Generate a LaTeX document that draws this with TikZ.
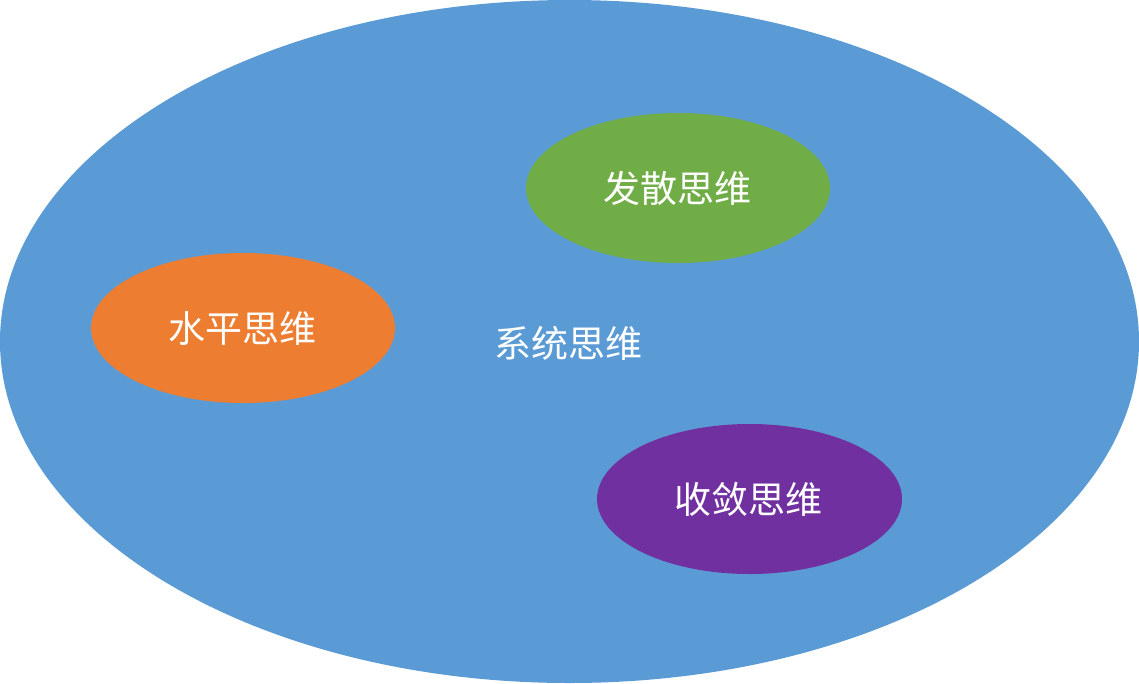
\documentclass[tikz,border=0pt]{standalone}
\usepackage{fontspec}
\newfontfamily\cjk{Noto Sans CJK SC}
\definecolor{bigblue}{HTML}{5B9BD5}
\definecolor{mygreen}{HTML}{70AD47}
\definecolor{myorange}{HTML}{ED7D31}
\definecolor{mypurple}{HTML}{7030A0}
\begin{document}
\begin{tikzpicture}[x=1pt,y=-1pt,
  lbl/.style={text=white,font=\cjk\fontsize{37}{42}\selectfont,inner sep=0pt}]
\useasboundingbox (0,0) rectangle (1139,683);
\fill[bigblue] (569.5,341.5) ellipse [x radius=569.5, y radius=341.5];
\node[lbl] (sys) at (568,343) {系统思维};
\fill[mygreen] (678,188) ellipse [x radius=152, y radius=75];
\node[lbl] (fs) at (677,188) {发散思维};
\fill[myorange] (243,328) ellipse [x radius=152, y radius=75];
\node[lbl] (sp) at (242,328) {水平思维};
\fill[mypurple] (749.5,499) ellipse [x radius=152.5, y radius=75];
\node[lbl] (sl) at (748.5,499) {收敛思维};
\end{tikzpicture}
\end{document}
